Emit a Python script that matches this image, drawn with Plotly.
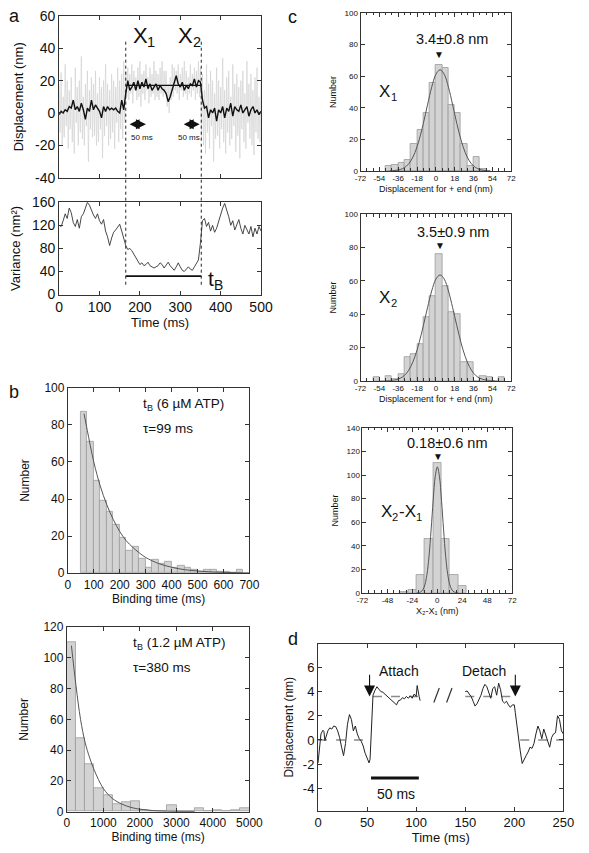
import plotly.graph_objects as go

FONT = "Liberation Sans, Arial, Helvetica, sans-serif"
W, H = 589, 853

# ---------------- Panel a data ----------------
a_time_black = list(range(0, 501, 5))
a_black = [-1, 1, 0, 2, 1, 4, 3, 8, 2, 4,
           1, 6, 2, -4, 3, 1, 8, 2, 5, 3,
           1, -3, 4, 1, 4, 2, 3, 2, 3, 1,
           0, 8, 2, 12, 20, 14, 16, 19, 14, 20,
           15, 19, 16, 21, 15, 18, 14, 16, 18, 14,
           17, 15, 14, 12, 7, 10, 14, 18, 23, 18,
           16, 19, 14, 17, 15, 18, 17, 21, 16, 20,
           19, 8, 3, 4, -3, 2, 0, 3, -5, 2,
           0, 4, -3, 3, 1, 6, -2, 4, 2, 1,
           5, 0, 2, 4, -2, 2, 4, 0, 2, -1,
           1]
a_time_gray = [i * 2.5 for i in range(201)]
a_gray = [18, -12, 25, -20, 10, -15, 30, -8, 20, -22,
          14, -10, 22, -18, 8, -25, 28, -6, 16, -20,
          20, -12, 35, -16, 10, -20, 18, -8, 26, -30,
          14, -10, 22, -15, 18, -14, 26, -20, 12, -18,
          22, -10, 16, -28, 20, -14, 30, -8, 18, -20,
          14, -16, 24, -12, 20, -22, 16, -6, 28, -18,
          20, -10, 24, -16, 32, -6,
          26, 10, 28, 8, 24, 12, 30, 6, 26, 14,
          22, 8, 28, 10, 32, 4, 24, 12, 26, 8,
          30, 14, 22, 6, 28, 10, 24, 12, 32, 8,
          26, 10, 24, 8, 28, 12, 32, 10, 26, 14,
          26, 4, 18, 0, 22, 8, 30, 10, 28, 14,
          26, 12, 30, 8, 24, 14, 28, 10, 32, 12,
          26, 8, 22, 12, 30, 10, 24, 14, 28, 8,
          26, 12, 32, 10, 28,
          -16, 24, -20, 14, -25, 30, -12, 18, -22, 26,
          -8, 20, -30, 12, -16, 28, -14, 20, -22, 16,
          -10, 34, -18, 14, -25, 22, -12, 26, -20, 10,
          -16, 30, -8, 18, -24, 24, -14, 16, -28, 20,
          -10, 26, -18, 12, -22, 32, -6, 18, -16, 24,
          -20, 14, -26, 22, -12, 28, -16, 10, -18, 20]
a_time_var = list(range(0, 501, 5))
a_var = [120, 118, 128, 140, 132, 150, 142, 125, 118, 130,
         115, 135, 140, 150, 160, 155, 145, 138, 132, 140,
         128, 122, 130, 110, 100, 85, 98, 108, 112, 118,
         122, 110, 95, 85, 78, 80, 76, 70, 62, 58,
         52, 55, 50, 52, 56, 50, 48, 46, 48, 50,
         55, 52, 46, 52, 56, 50, 45, 42, 48, 55,
         48, 42, 40, 44, 48, 44, 42, 48, 55, 60,
         90, 128, 132, 118, 125, 110, 120, 108, 115, 128,
         140, 150, 158, 148, 135, 120, 128, 112, 120, 130,
         115, 105, 120, 112, 105, 118, 100, 115, 105, 118,
         110]
a_events = [165, 352]          # attach / detach times (ms)
a_bound_level = 17             # nm
a_tb_level = 32                # nm^2

# ---------------- Panel b data ----------------
b1_width = 25
b1_centers = [62.5 + 25 * i for i in range(25)]
b1_counts = [87, 71, 50, 39, 33, 26, 19, 12, 14, 8, 3, 7, 5, 6, 3, 4, 3, 2, 1, 2, 2, 1, 1, 0, 2]
b1_fit_x = [62.5, 75, 100, 125, 150, 175, 200, 225, 250, 275, 300, 350, 400, 450, 500, 550, 600, 650, 700]
b1_fit_y = [86, 77, 60, 47, 37, 29, 22.5, 17.5, 14, 11, 8.5, 5.2, 3.2, 1.9, 1.2, 0.7, 0.45, 0.27, 0.17]

b2_width = 250
b2_centers = [125 + 250 * i for i in range(20)]
b2_counts = [110, 48, 31, 15, 11, 5, 6, 7, 1, 0.5, 0, 4, 0, 0, 2, 0, 1, 0, 1, 2]
b2_fit_x = [125, 250, 375, 500, 625, 750, 1000, 1250, 1500, 1750, 2000, 2500, 3000, 3500]
b2_fit_y = [108, 82, 60, 45, 35, 27, 15, 8.5, 5, 2.8, 1.6, 0.5, 0.15, 0.05]

# ---------------- Panel c data ----------------
c1_width = 6
c1_centers = [-45, -39, -33, -27, -21, -15, -9, -3, 3, 9, 15, 21, 27, 33, 39, 45]
c1_counts = [3, 4, 5, 7, 17, 26, 37, 56, 67, 65, 42, 37, 17, 3, 9, 1]
c1_fit_x = [-44, -40, -36, -32, -28, -24, -20, -16, -12, -8, -4, 0, 4, 8, 12, 16, 20, 24, 28, 32, 36, 40, 44, 48, 52]
c1_fit_y = [0.07, 0.2, 0.56, 1.4, 3.1, 6.3, 11.6, 19.6, 30, 41.8, 53, 61.1, 64, 61.1, 53, 41.8, 30, 19.6, 11.6, 6.3, 3.1, 1.4, 0.56, 0.2, 0.07]

c2_width = 6
c2_centers = [-57, -51, -45, -39, -33, -27, -21, -15, -9, -3, 3, 9, 15, 21, 27, 33, 39, 45, 51, 57, 63]
c2_counts = [2, 0, 3, 1, 4, 14, 16, 22, 38, 51, 76, 57, 41, 40, 11, 11, 0, 3, 2, 0, 2]
c2_fit_x = [-48, -44, -40, -36, -32, -28, -24, -20, -16, -12, -8, -4, 0, 4, 8, 12, 16, 20, 24, 28, 32, 36, 40, 44, 48, 52, 56]
c2_fit_y = [0.06, 0.18, 0.46, 1.1, 2.3, 4.6, 8.6, 14.6, 22.9, 33.1, 43.9, 53.9, 61, 63.5, 61, 53.9, 43.9, 33.1, 22.9, 14.6, 8.6, 4.6, 2.3, 1.1, 0.46, 0.18, 0.06]

c3_width = 8
c3_centers = [-32, -24, -16, -8, 0, 8, 16, 24]
c3_counts = [1, 2.5, 15, 46, 110, 46, 15, 6]
c3_fit_x = [-20, -18, -16, -14, -12, -10, -8, -6, -4, -2, 0, 2, 4, 6, 8, 10, 12, 14, 16, 18, 20]
c3_fit_y = [0.05, 0.2, 0.8, 2.5, 6.7, 15.6, 31, 53.5, 78.6, 99, 107, 99, 78.6, 53.5, 31, 15.6, 6.7, 2.5, 0.8, 0.2, 0.05]

c_means = [3.4, 3.5, 0.18]
c_labels = ["3.4±0.8 nm", "3.5±0.9 nm", "0.18±0.6 nm"]

# ---------------- Panel d data ----------------
d_t1 = [0, 1, 2, 3, 5, 6, 7, 8, 10, 12, 14, 16, 18, 20, 22, 24, 26, 28, 30, 32, 34, 36, 38, 40,
        42, 44, 46, 48, 50, 52, 53, 54, 55, 56, 58, 60, 62, 64, 66, 68, 70, 72, 74, 76, 78, 80,
        82, 84, 86, 88, 90, 92, 94, 96, 98, 100, 101, 102, 103, 104]
d_y1 = [-1.9, -0.9, -0.3, 0.5, 0.8, 0.7, -0.05, 0.2, 0.75, 1.0, 0.9, 1.15, 1.1, 0.75, 0.2, -0.6,
        -1.3, -0.3, 1.3, 2.1, 1.7, 0.75, 1.15, 0.5, 0.1, -0.1, -0.5, -1.1, -1.5, -1.9, -1.6, 0.5,
        2.9, 3.7, 4.1, 4.4, 4.2, 4.0, 3.95, 3.8, 3.7, 3.5, 3.4, 3.25, 3.05, 2.9, 3.25, 3.3, 3.5,
        3.4, 3.6, 3.45, 3.65, 3.45, 3.8, 3.6, 4.5, 3.85, 3.6, 3.25]
d_t2 = [150, 152, 154, 156, 158, 160, 162, 164, 166, 168, 170, 172, 174, 176, 178, 180, 182, 184,
        186, 188, 190, 192, 194, 196, 198, 200, 201, 202, 204, 206, 208, 210, 212, 214, 216, 218,
        220, 222, 224, 226, 228, 230, 232, 234, 236, 238, 240, 242, 244, 246, 248, 250]
d_y2 = [4.0, 4.05, 3.8, 3.6, 3.2, 2.8, 3.0, 3.3, 3.7, 4.25, 4.6, 4.4, 4.0, 3.45, 4.25, 4.4, 3.7,
        4.7, 4.15, 3.2, 3.05, 3.2, 2.9, 2.7, 2.9, 2.9, 2.25, 1.55, 0.2, -0.9, -1.95, -1.55, -1.3,
        -1.0, -0.6, -0.7, -0.3, 0.5, 1.15, 0.75, 0.1, 0.9, 0.35, -0.1, -0.6, 0.2, 0.5, 0.6, 2.0,
        1.7, 0.75, 0.5]
d_fit_x = [0, 52, None, 56, 105, None, 150, 200, None, 206, 250]
d_fit_y = [0, 0, None, 3.6, 3.6, None, 3.6, 3.6, None, 0, 0]
d_events = [52.5, 201]


# ---------------- helpers ----------------
def dom_x(p0, p1):
    return [p0 / W, p1 / W]


def dom_y(p0, p1):
    return [1 - p1 / H, 1 - p0 / H]


def axis(domain, rng, anchor, fs, title=None, tfs=None, dtick=None, tickvals=None,
         showlabels=True, minor=None, hyphen=False, standoff=3):
    d = dict(domain=domain, range=rng, anchor=anchor, showline=True, linecolor="#333",
             linewidth=1, mirror="ticks", ticks="inside", ticklen=4, tickwidth=1,
             tickcolor="#333", showgrid=False, zeroline=False, showticklabels=showlabels,
             tickfont=dict(family=FONT, size=fs, color="#111"))
    if tickvals is not None:
        d["tickvals"] = tickvals
        if hyphen:
            d["ticktext"] = [str(v) for v in tickvals]
    elif dtick is not None:
        d["dtick"] = dtick
        d["tick0"] = 0
    if title:
        d["title"] = dict(text=title, font=dict(family=FONT, size=tfs or fs, color="#111"),
                          standoff=standoff)
    if minor:
        d["minor"] = minor
    return d


fig = go.Figure()

BAR = dict(color="#d3d3d3", line=dict(color="#9c9c9c", width=0.8))
FIT = dict(color="#555", width=1)

# panel a traces
fig.add_trace(go.Scatter(x=a_time_gray, y=a_gray, mode="lines",
                         line=dict(color="#d2d2d2", width=0.7), xaxis="x", yaxis="y"))
fig.add_trace(go.Scatter(x=a_time_black, y=a_black, mode="lines",
                         line=dict(color="#111", width=1.4), xaxis="x", yaxis="y"))
fig.add_trace(go.Scatter(x=a_events, y=[a_bound_level, a_bound_level], mode="lines",
                         line=dict(color="#111", width=1.2), xaxis="x", yaxis="y"))
fig.add_trace(go.Scatter(x=a_time_var, y=a_var, mode="lines",
                         line=dict(color="#333", width=0.9), xaxis="x2", yaxis="y2"))
fig.add_trace(go.Scatter(x=a_events, y=[a_tb_level, a_tb_level], mode="lines",
                         line=dict(color="#111", width=1.6), xaxis="x2", yaxis="y2"))

# panel b
fig.add_trace(go.Bar(x=b1_centers, y=b1_counts, width=b1_width, marker=BAR, xaxis="x3", yaxis="y3"))
fig.add_trace(go.Scatter(x=b1_fit_x, y=b1_fit_y, mode="lines", line=dict(shape="spline", **FIT),
                         xaxis="x3", yaxis="y3"))
fig.add_trace(go.Bar(x=b2_centers, y=b2_counts, width=b2_width, marker=BAR, xaxis="x4", yaxis="y4"))
fig.add_trace(go.Scatter(x=b2_fit_x, y=b2_fit_y, mode="lines", line=dict(shape="spline", **FIT),
                         xaxis="x4", yaxis="y4"))

# panel c
for (cx, cy, w, fx, fy, n) in [(c1_centers, c1_counts, c1_width, c1_fit_x, c1_fit_y, 5),
                               (c2_centers, c2_counts, c2_width, c2_fit_x, c2_fit_y, 6),
                               (c3_centers, c3_counts, c3_width, c3_fit_x, c3_fit_y, 7)]:
    fig.add_trace(go.Bar(x=cx, y=cy, width=w, marker=BAR, xaxis=f"x{n}", yaxis=f"y{n}"))
    fig.add_trace(go.Scatter(x=fx, y=fy, mode="lines", line=dict(shape="spline", **FIT),
                             xaxis=f"x{n}", yaxis=f"y{n}"))

# panel d
fig.add_trace(go.Scatter(x=d_fit_x, y=d_fit_y, mode="lines", connectgaps=False,
                         line=dict(color="#8a8a8a", width=1.5, dash="dash"), xaxis="x8", yaxis="y8"))
fig.add_trace(go.Scatter(x=d_t1, y=d_y1, mode="lines", line=dict(color="#222", width=1),
                         xaxis="x8", yaxis="y8"))
fig.add_trace(go.Scatter(x=d_t2, y=d_y2, mode="lines", line=dict(color="#222", width=1),
                         xaxis="x8", yaxis="y8"))

c_xticks = [-72, -54, -36, -18, 0, 18, 36, 54, 72]
c3_xticks = [-72, -48, -24, 0, 24, 48, 72]
c_minor = dict(dtick=6, tick0=0, ticks="inside", ticklen=2.5, tickcolor="#333")

fig.update_layout(
    width=W, height=H, autosize=False, margin=dict(l=0, r=0, t=0, b=0),
    paper_bgcolor="white", plot_bgcolor="white", showlegend=False, bargap=0,
    font=dict(family=FONT, color="#111"),
    xaxis=axis(dom_x(55, 264), [0, 500], "y", 14, dtick=100, showlabels=False),
    yaxis=axis(dom_y(8, 173), [-40, 60], "x", 14, title="Displacement (nm)", tfs=13,
               tickvals=[-40, -20, 0, 20, 40, 60], hyphen=True, standoff=8),
    xaxis2=axis(dom_x(55, 264), [0, 500], "y2", 14, title="Time (ms)", tfs=13, dtick=100, standoff=1),
    yaxis2=axis(dom_y(198, 292), [0, 160], "x2", 14, title="Variance (nm²)", tfs=13, dtick=40,
                standoff=8),
    xaxis3=axis(dom_x(64, 252), [0, 700], "y3", 12, title="Binding time (ms)", dtick=100, standoff=2),
    yaxis3=axis(dom_y(387, 576), [0, 100], "x3", 12, title="Number", dtick=20, standoff=12),
    xaxis4=axis(dom_x(63, 252), [0, 5000], "y4", 12, title="Binding time (ms)", dtick=1000, standoff=2),
    yaxis4=axis(dom_y(631, 819), [0, 120], "x4", 12, title="Number", dtick=20, standoff=12),
    xaxis5=axis(dom_x(367, 523), [-72, 72], "y5", 8, title="Displacement for + end (nm)", tfs=9,
                tickvals=c_xticks, hyphen=True, minor=c_minor),
    yaxis5=axis(dom_y(5, 166), [0, 100], "x5", 8, title="Number", tfs=9, dtick=20, standoff=6),
    xaxis6=axis(dom_x(367, 523), [-72, 72], "y6", 8, title="Displacement for + end (nm)", tfs=9,
                tickvals=c_xticks, hyphen=True, minor=c_minor),
    yaxis6=axis(dom_y(210, 380), [0, 100], "x6", 8, title="Number", tfs=9, dtick=20, standoff=6),
    xaxis7=axis(dom_x(369, 524), [-72, 72], "y7", 8, title="X₂-X₁ (nm)", tfs=9,
                tickvals=c3_xticks, hyphen=True, minor=c_minor),
    yaxis7=axis(dom_y(428, 596), [0, 140], "x7", 8, title="Number", tfs=9, dtick=20, standoff=6),
    xaxis8=axis(dom_x(323, 577), [0, 250], "y8", 13, title="Time (ms)", dtick=50, standoff=2),
    yaxis8=axis(dom_y(648, 818), [-5.85, 7.95], "x8", 13, title="Displacement (nm)", tfs=12,
                tickvals=[-4, -2, 0, 2, 4, 6], hyphen=True, standoff=6),
)

shapes = []
for t in a_events:
    shapes.append(dict(type="line", xref="x", yref="paper", x0=t, x1=t,
                       y0=1 - 282 / H, y1=1 - 33 / H, line=dict(color="#222", width=1, dash="dot")))
# "//" break marks in panel d
for x0 in (118, 131):
    shapes.append(dict(type="line", xref="x8", yref="y8", x0=x0, x1=x0 + 5.5, y0=3.1, y1=4.3,
                       line=dict(color="#333", width=1.2)))
# 50 ms scale bar in panel d
shapes.append(dict(type="line", xref="x8", yref="y8", x0=54, x1=102.7, y0=-3.15, y1=-3.15,
                   line=dict(color="#111", width=3)))
fig.update_layout(shapes=shapes)

ann = []

CHAR_W = {"X": 0.667, "t": 0.278, "B": 0.667, "1": 0.556, "2": 0.556, "-": 0.333}


def txt(x, y, s, xref, yref, size, xanchor="center", yanchor="middle", xshift=0, yshift=0):
    ann.append(dict(x=x, y=y, xref=xref, yref=yref, text=s, showarrow=False,
                    xanchor=xanchor, yanchor=yanchor, xshift=xshift, yshift=yshift,
                    font=dict(family=FONT, size=size, color="#111")))


def rich(x, y, pieces, xref, yref, size):
    # pieces: list of (text, is_subscript); drawn left to right from (x, y)
    off = 0.0
    sub = size * 0.66
    for s, is_sub in pieces:
        fs = sub if is_sub else size
        txt(x, y, s, xref, yref, fs, "left", xshift=off, yshift=-size * 0.3 if is_sub else 0)
        off += sum(CHAR_W.get(ch, 0.5) for ch in s) * fs


# panel letters
txt(1 / W, 1 - 8 / H, "a", "paper", "paper", 18, "left")
txt(1 / W, 1 - 391 / H, "b", "paper", "paper", 18, "left")
txt(290 / W, 1 - 9 / H, "c", "paper", "paper", 18, "left")
txt(290 / W, 1 - 643 / H, "d", "paper", "paper", 18, "left")

# panel a labels
rich(177, 48, [("X", False), ("1", True)], "x", "y", 22)
rich(289, 48, [("X", False), ("2", True)], "x", "y", 22)
txt(172, -15, "50 ms", "x", "y", 8, "left")
txt(290, -15, "50 ms", "x", "y", 8, "left")
rich(364, 28, [("t", False), ("B", True)], "x2", "y2", 21)
for (x0, x1) in [(167, 215), (301, 348)]:
    ann.append(dict(x=x1, y=-7, ax=x0, ay=-7, xref="x", yref="y", axref="x", ayref="y",
                    showarrow=True, arrowhead=2, arrowside="end+start", arrowsize=1,
                    arrowwidth=2, arrowcolor="#111", text=" "))

# panel b labels
txt(283, 91.5, "t", "x3", "y3", 13.5, "left")
txt(283, 91.5, "B", "x3", "y3", 9, "left", xshift=4, yshift=-4)
txt(283, 91.5, " (6 µM ATP)", "x3", "y3", 13.5, "left", xshift=10)
txt(281, 78, "τ=99 ms", "x3", "y3", 13.5, "left")
txt(1754, 110, "t", "x4", "y4", 13.5, "left")
txt(1754, 110, "B", "x4", "y4", 9, "left", xshift=4, yshift=-4)
txt(1754, 110, " (1.2 µM ATP)", "x4", "y4", 13.5, "left", xshift=10)
txt(1754, 94, "τ=380 ms", "x4", "y4", 13.5, "left")

# panel c labels
txt(15.7, 83.5, c_labels[0], "x5", "y5", 14.5)
txt(c_means[0], 73.5, "▼", "x5", "y5", 10)
rich(-56, 50, [("X", False), ("1", True)], "x5", "y5", 17)
txt(16.6, 89, c_labels[1], "x6", "y6", 14.5)
txt(c_means[1], 81, "▼", "x6", "y6", 10)
rich(-56, 50, [("X", False), ("2", True)], "x6", "y6", 17)
txt(9.8, 127, c_labels[2], "x7", "y7", 14.5)
txt(c_means[2], 115.5, "▼", "x7", "y7", 10)
rich(-56, 69, [("X", False), ("2", True), ("-X", False), ("1", True)], "x7", "y7", 17)

# panel d labels
txt(82, 5.7, "Attach", "x8", "y8", 14)
txt(169, 5.7, "Detach", "x8", "y8", 14)
txt(79, -4.5, "50 ms", "x8", "y8", 14)
for xe in d_events:
    ann.append(dict(x=xe, y=3.6, ax=xe, ay=6.1, xref="x8", yref="y8", axref="x8", ayref="y8",
                    showarrow=True, arrowhead=2, arrowsize=2, arrowwidth=1.1,
                    arrowcolor="#111", text=" "))

fig.update_layout(annotations=ann)
fig.write_html(
    "out.html", config={"displayModeBar": False, "responsive": False},
    post_script=("document.documentElement.style.margin='0';"
                 "document.documentElement.style.overflow='hidden';"
                 "document.body.style.margin='0';"
                 "document.body.style.overflow='hidden';"))
